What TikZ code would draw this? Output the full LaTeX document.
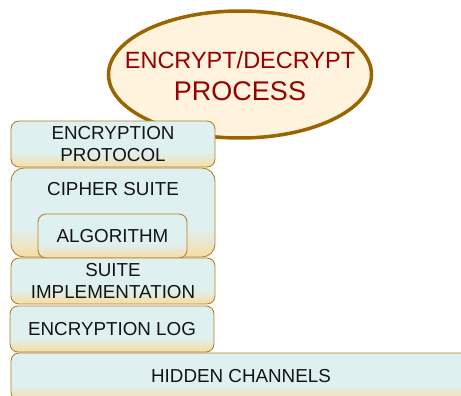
\documentclass[tikz,border=0pt]{standalone}
\usepackage{fontspec}
\setmainfont{Liberation Sans}
\usetikzlibrary{shapes.geometric}
\definecolor{cyn}{RGB}{223,240,240}
\definecolor{orng}{RGB}{247,220,165}
\definecolor{bord}{RGB}{178,130,40}
\definecolor{ellfill}{RGB}{255,243,222}
\definecolor{ellline}{RGB}{154,100,0}
\definecolor{redtext}{RGB}{150,0,0}
\definecolor{txt}{RGB}{20,20,20}
\pgfdeclareverticalshading{boxshade}{100bp}{color(0bp)=(orng); color(25bp)=(orng); color(41bp)=(cyn); color(100bp)=(cyn)}
\tikzset{
  layer/.style={draw=bord, line width=0.9pt, rounded corners=8pt, shading=boxshade, inner sep=0pt, text=txt, align=center, font=\fontsize{18.8}{21.5}\selectfont},
  lbl/.style={inner sep=0pt, text=txt, align=center, font=\fontsize{18.8}{21.5}\selectfont},
}
\begin{document}
\begin{tikzpicture}[x=1pt,y=-1pt]
\useasboundingbox (0,0) rectangle (461,396);
\clip (0,0) rectangle (461,396);
\node[ellipse, draw=ellline, fill=ellfill, line width=3.5pt, minimum width=263pt, minimum height=127pt, inner sep=0pt] (proc) at (240,74.5) {};
\node[anchor=base, inner sep=0pt, text=redtext, font=\fontsize{23.5}{26}\selectfont] (t1) at (240,69) {ENCRYPT/DECRYPT};
\node[anchor=base, inner sep=0pt, text=redtext, font=\fontsize{27}{30}\selectfont] (t2) at (240,100) {PROCESS};
\node[layer, minimum width=204pt, minimum height=46pt] (proto) at (113,144) {ENCRYPTION\\PROTOCOL};
\node[layer, rounded corners=13pt, minimum width=204pt, minimum height=89pt] (cipher) at (113,212.5) {};
\node[lbl] (ciphert) at (113,189) {CIPHER SUITE};
\node[layer, minimum width=149pt, minimum height=44pt] (algo) at (112.5,236) {ALGORITHM};
\node[layer, minimum width=204pt, minimum height=46pt] (impl) at (113,281) {SUITE\\IMPLEMENTATION};
\node[layer, minimum width=204pt, minimum height=46pt] (log) at (112,329) {ENCRYPTION LOG};
\node[layer, minimum width=460pt, minimum height=47pt] (hidden) at (241,376.5) {HIDDEN CHANNELS};
\end{tikzpicture}
\end{document}
